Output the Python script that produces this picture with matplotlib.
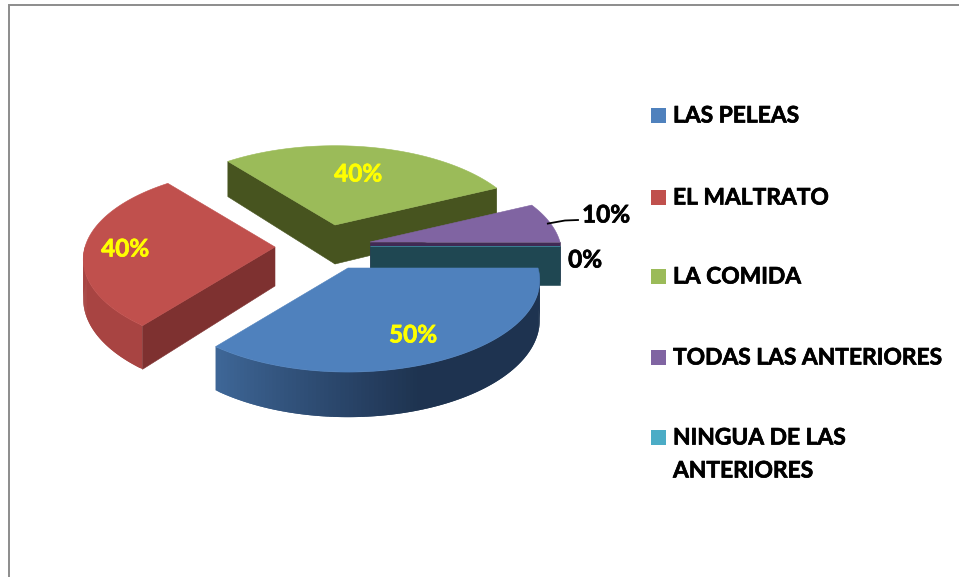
import numpy as np
from matplotlib import pyplot as plt
from matplotlib import colors as mcolors
from matplotlib import patheffects as pe
from matplotlib.patches import Polygon, Rectangle

# chart values
categories = ['LAS PELEAS', 'EL MALTRATO', 'LA COMIDA', 'TODAS LAS ANTERIORES', 'NINGUA DE LAS\nANTERIORES']
values = [50, 40, 40, 10, 0]
value_labels = ['50%', '40%', '40%', '10%', '0%']

# colours of the series
top_colors = ['#4F81BD', '#C0504D', '#9BBB59', '#8064A2', '#4BACC6']
wall_colors = ['#2A4A73', '#7E3130', '#47541F', '#402A54', '#1F4752']
rim_near = ['#1E3350', '#A84442', '#56682A', '#5F4A7A', '#1F4752']
rim_far = ['#3F6899', '#A84442', '#56682A', '#5F4A7A', '#1F4752']

# layout, in pixels of the 959x577 picture
tips = [(348, 268), (275, 247), (335, 225), (370, 242), (370, 246)]
radius_x, radius_y, depth, focal = 190, 90, 39, 7.4
draw_order = [2, 3, 4, 1, 0]


def project(tip, t, drop=0.0):
    # pie plane -> picture, with a little perspective
    X, Y = np.cos(t), np.sin(t)
    s = focal / (focal - Y)
    return tip[0] + radius_x * X * s, tip[1] + radius_y * Y * s + drop * s


def draw_slice(ax, i, t0, t1):
    tip = tips[i]
    ts = np.linspace(t0, t1, 120)
    c0 = np.array(mcolors.to_rgb(rim_near[i]))
    c1 = np.array(mcolors.to_rgb(rim_far[i]))
    span = max(t1 - t0, 1e-6)
    # outer rim, only the half that faces us, quads overlap to hide seams
    for k in range(len(ts) - 2):
        if np.sin(ts[k]) <= 0 and np.sin(ts[k + 2]) <= 0:
            continue
        f = np.clip(((ts[k] - t0) / span - 0.55) / 0.45, 0, 1)
        col = c0 + (c1 - c0) * f
        ax.add_patch(Polygon([project(tip, ts[k]), project(tip, ts[k + 2]),
                              project(tip, ts[k + 2], depth), project(tip, ts[k], depth)],
                             closed=True, fc=col, ec='none'))
    # cut faces, only those that face us
    for t, visible in ((t0, -np.cos(t0) > 0), (t1, np.cos(t1) > 0)):
        if visible:
            ax.add_patch(Polygon([tip, project(tip, t), project(tip, t, depth), (tip[0], tip[1] + depth)],
                                 closed=True, fc=wall_colors[i], ec=wall_colors[i], lw=0.4))
    # top face
    pts = [tip] + [project(tip, t) for t in ts]
    ax.add_patch(Polygon(pts, closed=True, fc=top_colors[i], ec=top_colors[i], lw=0.4))


fig, ax = plt.subplots(figsize=(9.59, 5.77), dpi=100)
fig.subplots_adjust(0, 0, 1, 1)
ax.set_xlim(0, 959)
ax.set_ylim(577, 0)
ax.axis('off')

# outer frame of the chart
ax.plot([8.5, 8.5, 959], [577, 5, 5], color='#8C8C8C', lw=1.4, solid_joinstyle='miter')

edges = np.cumsum([0] + values) / sum(values) * 2 * np.pi
for i in draw_order:
    draw_slice(ax, i, edges[i], edges[i + 1])

font = dict(family='Lato', weight='bold')


def label(x, y, s, color, size, **kw):
    ax.text(x, y, s, color=color, fontsize=size, va='center', **font, **kw,
            path_effects=[pe.withStroke(linewidth=0.5, foreground=color)])


# data labels
yellow_pos = [(413, 335), (125, 249), (358, 174)]
for i, (x, y) in enumerate(yellow_pos):
    label(x, y, value_labels[i], '#FFFF00', 17.5, ha='center')
label(606, 215, value_labels[3], 'black', 17.5, ha='center')
label(585, 260, value_labels[4], 'black', 17.5, ha='center')

# leader line of the small slice
mid = (edges[3] + edges[4]) / 2
start = project(tips[3], mid)
ax.plot([start[0] - 2, 565, 578], [start[1] + 1, 220.5, 220], color='black', lw=1.3)

# legend
legend_y = [115, 197, 276, 357, 437]
line_gap = 33
for i, y in enumerate(legend_y):
    ax.add_patch(Rectangle((651, y - 7.5), 15, 15, fc=top_colors[i], ec='none'))
    for j, line in enumerate(categories[i].split('\n')):
        label(673, y + 1 + j * line_gap, line, 'black', 16.4)

plt.savefig('out.png', dpi=100)
